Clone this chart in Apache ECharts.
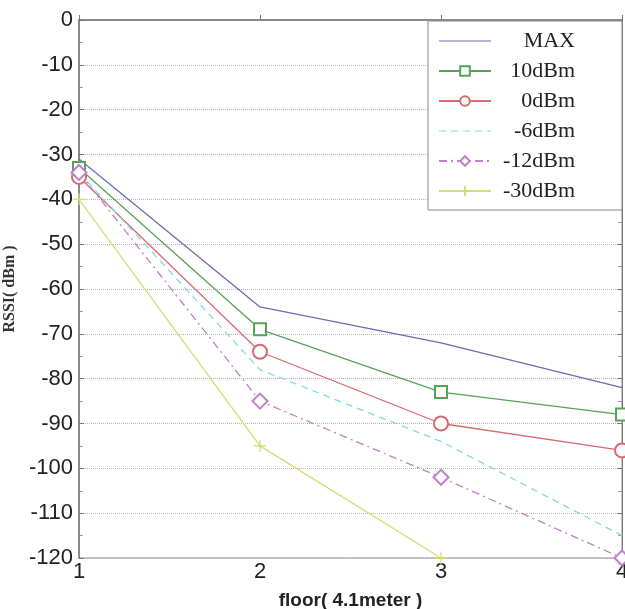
<!DOCTYPE html>
<html>
<head>
<meta charset="utf-8">
<script src="https://cdn.jsdelivr.net/npm/echarts@6/dist/echarts.min.js"></script>
<style>
  html, body { margin: 0; padding: 0; background: #fff; }
  #main { width: 625px; height: 609px; }
</style>
</head>
<body>
<div id="main"></div>
<script>
// floor numbers on the x axis
const floors = [1, 2, 3, 4]
// RSSI (dBm) per tx power
const maxData = [-31, -64, -72, -82]
const dbm10Data = [-33, -69, -83, -88]
const dbm0Data = [-35, -74, -90, -96]
const dbmM6Data = [-34, -78, -94, -115]
const dbmM12Data = [-34, -85, -102, -120]
const dbmM30Data = [-40, -95, -120]

const seriesNames = ['MAX', '10dBm', '0dBm', '-6dBm', '-12dBm', '-30dBm']
const seriesColors = ['#6b6bb3', '#56a356', '#d86a70', '#86d9df', '#c27fc9', '#d6dc70']

// legend icons for the plain lines (no marker)
const solidIcon = 'path://M0,0 L0,0 Z M0,5.4 L52,5.4 L52,6.6 L0,6.6 Z M52,12 L52,12 Z'
const dashIcon = 'path://M0,0 L0,0 Z M0,5.4 L7,5.4 L7,6.6 L0,6.6 Z M12,5.4 L19,5.4 L19,6.6 L12,6.6 Z ' +
  'M24,5.4 L31,5.4 L31,6.6 L24,6.6 Z M36,5.4 L43,5.4 L43,6.6 L36,6.6 Z M48,5.4 L52,5.4 L52,6.6 L48,6.6 Z M52,12 L52,12 Z'

function pairs(arr) {
  return arr.map((v, i) => [floors[i], v])
}

const chart = echarts.init(document.getElementById('main'))

const option = {
  animation: false,
  textStyle: { fontFamily: 'Liberation Sans' },
  grid: {
    left: 79,
    right: 3,
    top: 20,
    bottom: 51,
    outerBoundsMode: 'none',
    containLabel: false,
    show: true,
    borderColor: '#8a8a8a',
    borderWidth: 1
  },
  legend: {
    orient: 'vertical',
    left: 428,
    top: 21,
    padding: [9, 47, 8, 10],
    itemGap: 8,
    itemWidth: 52,
    itemHeight: 12,
    backgroundColor: '#fff',
    borderColor: '#888',
    borderWidth: 1,
    data: seriesNames.map(n => {
      if (n === 'MAX') return { name: n, icon: solidIcon }
      if (n === '-6dBm') return { name: n, icon: dashIcon }
      return { name: n }
    }),
    formatter: name => '{t|' + name + '}',
    textStyle: {
      rich: {
        t: {
          width: 79,
          align: 'right',
          fontFamily: 'Liberation Serif',
          fontSize: 22,
          color: '#222'
        }
      }
    }
  },
  xAxis: {
    type: 'value',
    min: 1,
    max: 4,
    interval: 1,
    name: 'floor( 4.1meter )',
    nameLocation: 'middle',
    nameGap: 33,
    nameTextStyle: {
      fontFamily: 'Liberation Sans',
      fontWeight: 'bold',
      fontSize: 19,
      color: '#222'
    },
    axisLine: { lineStyle: { color: '#777', width: 1.5 } },
    axisTick: { inside: true, length: 5, lineStyle: { color: '#777' } },
    axisLabel: { fontSize: 22, color: '#222', margin: 3 },
    splitLine: { show: false }
  },
  yAxis: [{
    type: 'value',
    min: -120,
    max: 0,
    interval: 10,
    name: 'RSSI( dBm )',
    nameLocation: 'middle',
    nameGap: 60,
    nameRotate: 90,
    nameTextStyle: {
      fontFamily: 'Liberation Serif',
      fontWeight: 'bold',
      fontSize: 16,
      color: '#333'
    },
    axisLine: { show: true, lineStyle: { color: '#777', width: 1.5 } },
    axisTick: { show: true, inside: true, length: 5, lineStyle: { color: '#777' } },
    minorTick: { show: true, splitNumber: 2, length: 4, lineStyle: { color: '#999' } },
    axisLabel: { fontSize: 22, color: '#222', margin: 6 },
    splitLine: { show: true, lineStyle: { color: '#b5b5b5', type: 'dotted', width: 1 } }
  }, {
    type: 'value',
    position: 'right',
    min: -120,
    max: 0,
    interval: 10,
    axisLine: { show: true, lineStyle: { color: '#777' } },
    axisTick: { show: true, inside: true, length: 5, lineStyle: { color: '#777' } },
    minorTick: { show: true, splitNumber: 2, length: 4, lineStyle: { color: '#999' } },
    axisLabel: { show: false },
    splitLine: { show: false }
  }],
  series: [{
    name: 'MAX',
    type: 'line',
    data: pairs(maxData),
    symbol: 'none',
    lineStyle: { color: seriesColors[0], width: 1.3 },
    itemStyle: { color: seriesColors[0] }
  },
  {
    name: '10dBm',
    type: 'line',
    data: pairs(dbm10Data),
    symbol: 'emptyRect',
    symbolSize: 12,
    lineStyle: { color: seriesColors[1], width: 1.3 },
    itemStyle: { color: seriesColors[1], borderWidth: 1.3 }
  },
  {
    name: '0dBm',
    type: 'line',
    data: pairs(dbm0Data),
    symbol: 'emptyCircle',
    symbolSize: 14,
    lineStyle: { color: seriesColors[2], width: 1.3 },
    itemStyle: { color: seriesColors[2], borderWidth: 1.3 }
  },
  {
    name: '-6dBm',
    type: 'line',
    data: pairs(dbmM6Data),
    symbol: 'none',
    lineStyle: { color: seriesColors[3], width: 1.3, type: [7, 5] },
    itemStyle: { color: seriesColors[3] }
  },
  {
    name: '-12dBm',
    type: 'line',
    data: pairs(dbmM12Data),
    symbol: 'emptyDiamond',
    symbolSize: 15,
    lineStyle: { color: seriesColors[4], width: 1.3, type: [8, 4, 2, 4] },
    itemStyle: { color: seriesColors[4], borderWidth: 1.3 }
  },
  {
    name: '-30dBm',
    type: 'line',
    data: pairs(dbmM30Data),
    symbol: 'path://M5,0 L5,10 M0,5 L10,5',
    symbolSize: 12,
    lineStyle: { color: seriesColors[5], width: 1.3 },
    itemStyle: { color: seriesColors[5], borderColor: seriesColors[5], borderWidth: 1.3 }
  }
  ]
}

chart.setOption(option)
</script>
</body>
</html>
